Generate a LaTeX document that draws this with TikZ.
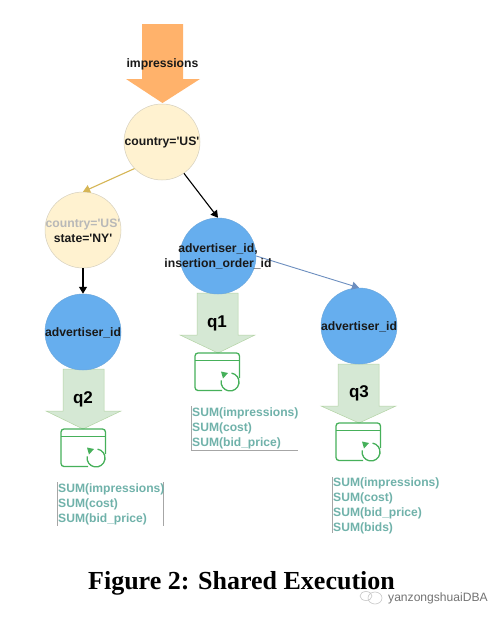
\documentclass[tikz,border=0pt]{standalone}
\usepackage{fontspec}
\setmainfont{Liberation Sans}
\newfontfamily\capfont{Liberation Serif}
\usetikzlibrary{arrows.meta}
\definecolor{cream}{RGB}{255,242,208}
\definecolor{creamline}{RGB}{214,208,190}
\definecolor{bluefill}{RGB}{102,174,238}
\definecolor{greenfill}{RGB}{213,232,212}
\definecolor{greenline}{RGB}{180,212,165}
\definecolor{orangefill}{RGB}{255,178,107}
\definecolor{icongreen}{RGB}{70,176,90}
\definecolor{teal}{RGB}{112,178,170}
\definecolor{gold}{RGB}{214,182,86}
\definecolor{linkblue}{RGB}{108,142,191}
\tikzset{
  x=1pt,y=-1pt,
  circ/.style={circle,minimum size=76pt,inner sep=0pt,line width=.5pt},
  creamnode/.style={circ,fill=cream,draw=creamline},
  bluenode/.style={circ,fill=bluefill,draw=bluefill!85!gray},
  lbl/.style={font=\fontsize{12.2}{14.8}\selectfont\bfseries,align=center,text=black!90,inner sep=0pt},
  qlbl/.style={font=\fontsize{17}{20}\selectfont\bfseries,text=black,inner sep=0pt},
  sumtxt/.style={font=\fontsize{12.1}{15}\selectfont\bfseries,text=teal,align=left,anchor=north west,inner sep=0pt},
  conn/.style={line width=1.1pt,-{Triangle[length=7pt,width=8pt]}},
  boxedge/.style={draw=black!35,line width=.5pt},
  iconline/.style={draw=icongreen,line width=1.3pt},
  pics/storeicon/.style={code={
    \draw[iconline,rounded corners=3pt] (27,37.5) -- (0,37.5) -- (0,0) -- (44.5,0) -- (44.5,25);
    \draw[iconline] (0,7.5) -- (44.5,7.5);
    \draw[iconline] (36.6,20.1) arc[start angle=-80,end angle=190,radius=9];
    \path[fill=icongreen] (26,18.5) -- (33,20) -- (28,25.5) -- cycle;
  }}
}
\begin{document}
\begin{tikzpicture}
\useasboundingbox (0,0) rectangle (503,621);
\fill[white] (0,0) rectangle (503,621);

% fat arrows
\path[fill=orangefill] (142,24) -- (183,24) -- (183,79) -- (200,79) -- (162.5,103) -- (126,79) -- (142,79) -- cycle;
\path[fill=greenfill,draw=greenline,line width=.5pt] (197,293) -- (238,293) -- (238,335) -- (255,335) -- (218,353) -- (180,335) -- (197,335) -- cycle;
\path[fill=greenfill,draw=greenline,line width=.5pt] (338,364) -- (379,364) -- (379,406) -- (396,406) -- (359,423) -- (321,406) -- (338,406) -- cycle;
\path[fill=greenfill,draw=greenline,line width=.5pt] (63,369) -- (104,369) -- (104,411) -- (121,411) -- (83,429) -- (46,411) -- (63,411) -- cycle;

% circles
\node[creamnode] (us) at (162,142) {};
\node[creamnode] (ny) at (83,230) {};
\node[bluenode] (adv1) at (218,256) {};
\node[bluenode] (adv2) at (83,332) {};
\node[bluenode] (adv3) at (359,326) {};

% connectors
\draw[line width=1.1pt,draw=gold,-{Triangle[length=7pt,width=8pt,fill=gold]}] (us.224) -- (ny.north);
\draw[conn] (us.-55) -- (adv1.north);
\draw[conn] (ny.south) -- (adv2.north);
\draw[line width=.9pt,draw=linkblue,-{Triangle[length=7pt,width=8pt,fill=linkblue]}] (adv1.east) -- (adv3.north);

% labels
\node[lbl] (limp) at (162.5,64) {impressions};
\node[lbl] (lus) at (162,143) {country=\textquotesingle US\textquotesingle};
\node[lbl] (lny) at (83,231) {\textcolor{black!28}{country=\textquotesingle US\textquotesingle}\\state=\textquotesingle NY\textquotesingle};
\node[lbl] (ladv1) at (218,256.5) {advertiser\_id,\\insertion\_order\_id};
\node[lbl] (ladv2) at (83,332.5) {advertiser\_id};
\node[lbl] (ladv3) at (359,326.5) {advertiser\_id};
\node[qlbl] (q1) at (217,323) {q1};
\node[qlbl] (q2) at (83,399) {q2};
\node[qlbl] (q3) at (359,393) {q3};

% store icons
\pic at (195,353) {storeicon};
\pic at (61,429) {storeicon};
\pic at (336,423) {storeicon};

% aggregate boxes
\draw[boxedge] (191.5,406) -- (191.5,450) -- (298,450);
\draw[boxedge] (163,482) -- (163,526);
\draw[boxedge] (57,482) -- (57,526);
\draw[boxedge] (332,477) -- (332,533);
\node[sumtxt] (s1) at (192,407.5) {SUM(impressions)\\SUM(cost)\\SUM(bid\_price)};
\node[sumtxt] (s2) at (58,484) {SUM(impressions)\\SUM(cost)\\SUM(bid\_price)};
\node[sumtxt] (s3) at (333,478) {SUM(impressions)\\SUM(cost)\\SUM(bid\_price)\\SUM(bids)};

% caption
\node[font=\capfont\fontsize{26}{28}\selectfont\bfseries,inner sep=0pt,text=black] (cap) at (241.5,583) {Figure 2: Shared Execution};
\node[font=\fontsize{12.1}{14}\selectfont,text=black!55,inner sep=0pt,anchor=west] (wm) at (388,598) {yanzongshuaiDBA};
\draw[black!22,line width=.6pt] (375,598) ellipse[x radius=7,y radius=6];
\draw[black!22,line width=.6pt] (366,596) ellipse[x radius=6,y radius=4.5];
\end{tikzpicture}
\end{document}
